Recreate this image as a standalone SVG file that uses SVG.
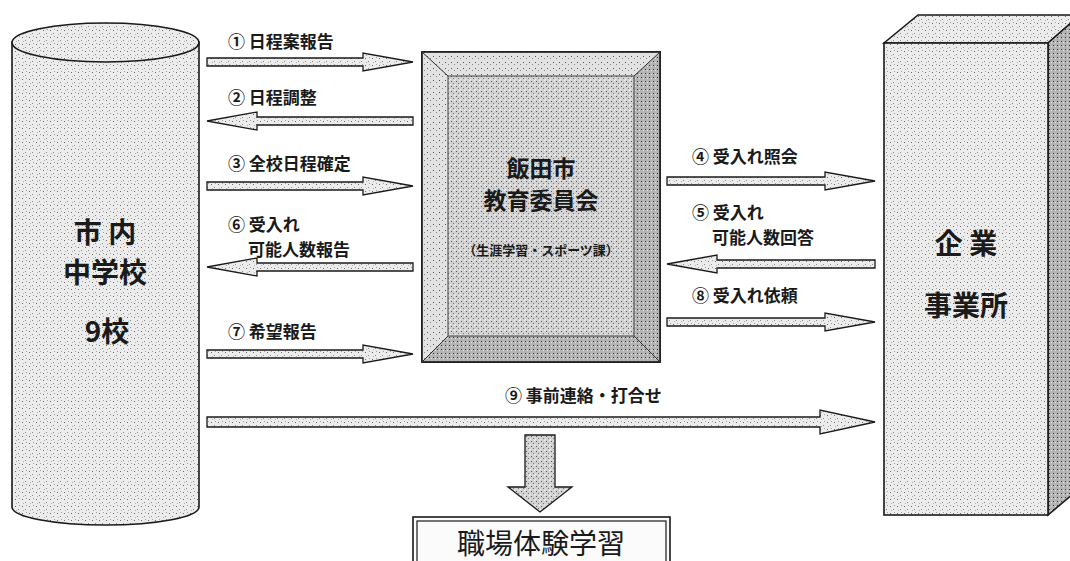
<svg xmlns="http://www.w3.org/2000/svg" width="1070" height="561" viewBox="0 0 1070 561">
  <defs>
    <pattern id="dotsLight" width="7" height="7" patternUnits="userSpaceOnUse">
      <rect width="7" height="7" fill="#ececec"/>
      <rect x="1" y="2" width="1" height="1" fill="#6a6a6a"/>
      <rect x="4" y="5" width="1" height="1" fill="#8a8a8a"/>
      <rect x="5" y="1" width="1" height="1" fill="#a0a0a0"/>
      <rect x="2" y="6" width="1" height="1" fill="#b0b0b0"/>
    </pattern>
    <pattern id="dotsMid" width="5" height="5" patternUnits="userSpaceOnUse">
      <rect width="5" height="5" fill="#d2d2d2"/>
      <rect x="1" y="1" width="1" height="1" fill="#5a5a5a"/>
      <rect x="3" y="3" width="1" height="1" fill="#7a7a7a"/>
      <rect x="4" y="0" width="1" height="1" fill="#f4f4f4"/>
      <rect x="0" y="4" width="1" height="1" fill="#f0f0f0"/>
    </pattern>
    <pattern id="dotsDark" width="4" height="4" patternUnits="userSpaceOnUse">
      <rect width="4" height="4" fill="#b4b4b4"/>
      <rect x="1" y="1" width="1" height="1" fill="#3a3a3a"/>
      <rect x="3" y="2" width="1" height="1" fill="#e4e4e4"/>
    </pattern>
    <pattern id="dotsBevelLight" width="6" height="6" patternUnits="userSpaceOnUse">
      <rect width="6" height="6" fill="#e2e2e2"/>
      <rect x="1" y="2" width="1" height="1" fill="#555"/>
      <rect x="4" y="4" width="1" height="1" fill="#888"/>
    </pattern>
  </defs>
  <style>
    .edge { stroke: #1a1a1a; stroke-width: 1.6; stroke-linejoin: miter; }
    .arrow { fill: url(#dotsLight); stroke: #1a1a1a; stroke-width: 1.3; stroke-linejoin: miter; }
    .lbl { font-family: "Noto Sans CJK JP", "Noto Sans CJK SC", sans-serif; font-size: 17px; font-weight: bold; fill: #1a1a1a; }
    .big { font-family: "Noto Sans CJK JP", "Noto Sans CJK SC", sans-serif; font-size: 28px; font-weight: bold; fill: #1a1a1a; text-anchor: middle; }
    .mid { font-family: "Noto Sans CJK JP", "Noto Sans CJK SC", sans-serif; font-size: 23px; font-weight: bold; fill: #1a1a1a; text-anchor: middle; }
    .small { font-family: "Noto Sans CJK JP", "Noto Sans CJK SC", sans-serif; font-size: 13px; font-weight: bold; fill: #1a1a1a; text-anchor: middle; }
    .result { font-family: "Noto Sans CJK JP", "Noto Sans CJK SC", sans-serif; font-size: 28px; fill: #1a1a1a; text-anchor: middle; }
  </style>

  <!-- Left node: cylinder -->
  <g id="schools">
    <path class="edge" fill="url(#dotsLight)" d="M12,42 L12,507 A93.5,18 0 0 0 199,507 L199,42 Z"/>
    <ellipse class="edge" fill="url(#dotsLight)" cx="105.5" cy="42.5" rx="93.5" ry="19.5"/>
    <text class="big" x="105" y="243">市 内</text>
    <text class="big" x="105" y="283">中学校</text>
    <text class="big" x="107" y="342">9校</text>
  </g>

  <!-- Center node: beveled box -->
  <g id="board">
    <rect class="edge" x="422" y="52" width="238" height="310" fill="url(#dotsMid)"/>
    <polygon points="422,52 660,52 634,76 448,76" fill="url(#dotsBevelLight)"/>
    <polygon points="422,52 448,76 448,336 422,362" fill="url(#dotsBevelLight)"/>
    <polygon points="660,52 660,362 634,336 634,76" fill="url(#dotsDark)"/>
    <polygon points="422,362 448,336 634,336 660,362" fill="url(#dotsDark)"/>
    <rect x="422" y="52" width="238" height="310" fill="none" class="edge"/>
    <line x1="422" y1="52" x2="448" y2="76" stroke="#333" stroke-width="1"/>
    <line x1="660" y1="52" x2="634" y2="76" stroke="#333" stroke-width="1"/>
    <line x1="422" y1="362" x2="448" y2="336" stroke="#333" stroke-width="1"/>
    <line x1="660" y1="362" x2="634" y2="336" stroke="#333" stroke-width="1"/>
    <rect x="448" y="76" width="186" height="260" fill="none" stroke="#444" stroke-width="1"/>
    <text class="mid" x="541" y="177">飯田市</text>
    <text class="mid" x="541" y="209">教育委員会</text>
    <text class="small" x="541" y="255">（生涯学習・スポーツ課）</text>
  </g>

  <!-- Right node: 3D box -->
  <g id="companies">
    <polygon class="edge" points="884,43 918,15 1080,15 1048,43" fill="url(#dotsLight)"/>
    <polygon class="edge" points="1048,43 1080,15 1080,488 1048,515" fill="url(#dotsDark)"/>
    <rect class="edge" x="884" y="43" width="164" height="472" fill="url(#dotsLight)"/>
    <text class="big" x="966" y="254">企 業</text>
    <text class="big" x="966" y="316">事業所</text>
  </g>

  <!-- Bottom node -->
  <g id="result">
    <rect x="413" y="517" width="257" height="60" fill="#fbfbfb" stroke="#1a1a1a" stroke-width="1.6"/>
    <rect x="417" y="521" width="249" height="60" fill="none" stroke="#1a1a1a" stroke-width="1.2"/>
    <text class="result" x="541" y="554">職場体験学習</text>
  </g>

  <!-- Connectors -->
  <g id="connectors">
    <polygon class="arrow" points="207,58 363,58 363,53 413,62 363,71 363,66 207,66"/>
    <polygon class="arrow" points="413,117 257,117 257,112 207,121 257,130 257,125 413,125"/>
    <polygon class="arrow" points="207,182 363,182 363,177 413,186 363,195 363,190 207,190"/>
    <polygon class="arrow" points="413,263 257,263 257,258 207,267 257,276 257,271 413,271"/>
    <polygon class="arrow" points="207,350 363,350 363,345 413,354 363,363 363,358 207,358"/>
    <polygon class="arrow" points="207,417 820,417 820,410 875,422 820,434 820,427 207,427"/>
    <polygon class="arrow" points="667,177 825,177 825,172 875,181 825,190 825,185 667,185"/>
    <polygon class="arrow" points="875,260 717,260 717,255 667,264 717,273 717,268 875,268"/>
    <polygon class="arrow" points="667,318 825,318 825,313 875,322 825,331 825,326 667,326"/>
    <polygon class="arrow" style="fill:url(#dotsMid)" points="525,435 555,435 555,487 572,487 540,512 508,487 525,487"/>

    <text class="lbl" x="228" y="48">① 日程案報告</text>
    <text class="lbl" x="228" y="104">② 日程調整</text>
    <text class="lbl" x="228" y="170">③ 全校日程確定</text>
    <text class="lbl" x="228" y="231">⑥ 受入れ</text>
    <text class="lbl" x="248" y="256">可能人数報告</text>
    <text class="lbl" x="228" y="338">⑦ 希望報告</text>
    <text class="lbl" x="505" y="402">⑨ 事前連絡・打合せ</text>
    <text class="lbl" x="692" y="163">④ 受入れ照会</text>
    <text class="lbl" x="692" y="219">⑤ 受入れ</text>
    <text class="lbl" x="712" y="244">可能人数回答</text>
    <text class="lbl" x="692" y="302">⑧ 受入れ依頼</text>
  </g>
</svg>
